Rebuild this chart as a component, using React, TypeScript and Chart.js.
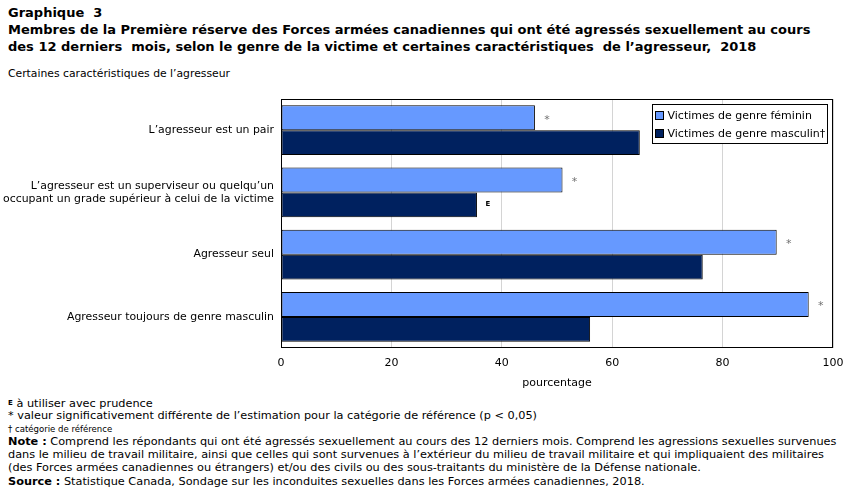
import React, { useEffect, useRef } from "react";
import { Chart, registerables } from "chart.js";

Chart.register(...registerables);

// Characteristics of the perpetrator (y categories)
const categories: (string | string[])[] = [
  "L’agresseur est un pair",
  ["L’agresseur est un superviseur ou quelqu’un", "occupant un grade supérieur à celui de la victime"],
  "Agresseur seul",
  "Agresseur toujours de genre masculin",
];

// Percentages by gender of victim
const femaleValues = [46.0, 51.0, 89.8, 95.6];
const maleValues = [65.0, 35.5, 76.4, 56.0];

// Quality / significance flags shown next to the bars
const femaleFlags = ["*", "*", "*", "*"];
const maleFlags = ["", "E", "", ""];

const xTicks = [0, 20, 40, 60, 80, 100];

const seriesLabels = ["Victimes de genre féminin", "Victimes de genre masculin†"];
const seriesColors = ["#6699FF", "#00215F"];

const FONT = "'DejaVu Sans', Verdana, sans-serif";
const FONT_NARROW = "'DejaVu Sans Condensed', 'DejaVu Sans', Tahoma, sans-serif";

const flagPlugin = {
  id: "flags",
  afterDatasetsDraw(chart: any) {
    const ctx = chart.ctx;
    const flagSets = [femaleFlags, maleFlags];
    ctx.save();
    chart.data.datasets.forEach((_ds: any, di: number) => {
      const meta = chart.getDatasetMeta(di);
      meta.data.forEach((bar: any, i: number) => {
        const f = flagSets[di][i];
        if (!f) return;
        ctx.textAlign = "center";
        ctx.textBaseline = "middle";
        if (f === "*") {
          ctx.font = `11px ${FONT}`;
          ctx.fillStyle = "#707070";
          ctx.fillText(f, bar.x + 12, bar.y + 2);
        } else {
          ctx.font = `bold 7px ${FONT}`;
          ctx.fillStyle = "#000000";
          ctx.fillText(f, bar.x + 11, bar.y - 1);
        }
      });
    });
    ctx.restore();
  },
};

const framePlugin = {
  id: "frame",
  afterDraw(chart: any) {
    const { ctx, chartArea } = chart;
    ctx.save();
    ctx.strokeStyle = "#000000";
    ctx.lineWidth = 1;
    const l = Math.round(chartArea.left) + 0.5;
    const t = Math.round(chartArea.top) + 0.5;
    const r = Math.round(chartArea.right) - 0.5;
    const b = Math.round(chartArea.bottom) - 0.5;
    ctx.strokeRect(l, t, r - l, b - t);

    // legend box inside the plot area
    const lx = 652.5;
    const ly = t + 5;
    const lw = 175;
    const lh = 39;
    ctx.fillStyle = "#ffffff";
    ctx.fillRect(lx, ly, lw, lh);
    ctx.strokeRect(lx, ly, lw, lh);
    ctx.font = `11px ${FONT}`;
    ctx.textAlign = "left";
    ctx.textBaseline = "middle";
    seriesLabels.forEach((label, i) => {
      const cy = ly + 11 + i * 18;
      ctx.fillStyle = seriesColors[i];
      ctx.fillRect(lx + 3, cy - 4, 8, 8);
      ctx.strokeStyle = "#000000";
      ctx.strokeRect(lx + 3, cy - 4, 8, 8);
      ctx.fillStyle = "#000000";
      ctx.fillText(label, lx + 15, cy + 0.5);
    });
    ctx.restore();
  },
};

function BarChart() {
  const ref = useRef<HTMLCanvasElement | null>(null);
  useEffect(() => {
    if (!ref.current) return;
    const chart = new Chart(ref.current, {
      type: "bar",
      data: {
        labels: categories,
        datasets: [
          {
            label: seriesLabels[0],
            data: femaleValues,
            backgroundColor: seriesColors[0],
            borderColor: "#000000",
            borderWidth: 1,
            borderSkipped: false,
          },
          {
            label: seriesLabels[1],
            data: maleValues,
            backgroundColor: seriesColors[1],
            borderColor: "#000000",
            borderWidth: 1,
            borderSkipped: false,
          },
        ],
      },
      options: {
        indexAxis: "y",
        animation: false,
        responsive: false,
        maintainAspectRatio: false,
        datasets: { bar: { barPercentage: 1, categoryPercentage: 0.8 } },
        layout: { padding: { top: 9, right: 18, bottom: 0, left: 0 } },
        plugins: {
          legend: { display: false },
          tooltip: { enabled: false },
          title: { display: false },
        },
        scales: {
          x: {
            min: 0,
            max: 100,
            afterBuildTicks: (scale: any) => {
              scale.ticks = xTicks.map((v) => ({ value: v }));
            },
            afterFit: (scale: any) => {
              scale.height = 42;
              scale.paddingLeft = 0;
              scale.paddingRight = 0;
            },
            grid: { color: "#d4d4d4", drawTicks: false, lineWidth: 1 },
            border: { display: false },
            ticks: {
              color: "#000000",
              font: { family: FONT, size: 11 },
              padding: 9,
              maxRotation: 0,
            },
            title: {
              display: true,
              text: "pourcentage",
              color: "#000000",
              font: { family: FONT, size: 11 },
              padding: { top: 0, bottom: 0 },
            },
          },
          y: {
            afterFit: (scale: any) => {
              scale.width = 281;
              scale.paddingTop = 0;
              scale.paddingBottom = 0;
            },
            grid: { display: false, drawTicks: false },
            border: { display: false },
            ticks: {
              color: "#000000",
              font: { family: FONT, size: 10.9, lineHeight: 1.2 },
              padding: 7,
            },
          },
        },
      },
      plugins: [flagPlugin, framePlugin],
    });
    return () => chart.destroy();
  }, []);
  return (
    <canvas
      ref={ref}
      width={851}
      height={300}
      style={{ position: "absolute", left: 0, top: 90, width: 851, height: 300 }}
    />
  );
}

const line = (top: number, extra: React.CSSProperties = {}): React.CSSProperties => ({
  position: "absolute",
  left: 8,
  top,
  whiteSpace: "nowrap",
  fontFamily: FONT,
  fontSize: 11.3,
  lineHeight: "13px",
  color: "#000",
  ...extra,
});

export default function App() {
  return (
    <div
      style={{
        position: "fixed",
        left: 0,
        top: 0,
        width: 851,
        height: 492,
        background: "#ffffff",
        overflow: "hidden",
      }}
    >
      <div style={line(4, { fontWeight: "bold", fontSize: 13, lineHeight: "17px" })}>
        Graphique&nbsp; 3
        <br />
        Membres de la Première réserve des Forces armées canadiennes qui ont été agressés sexuellement au cours
        <br />
        des 12 derniers&nbsp; mois, selon le genre de la victime et certaines caractéristiques&nbsp; de l’agresseur,&nbsp; 2018
      </div>
      <div style={line(67, { fontSize: 10.8 })}>Certaines caractéristiques de l’agresseur</div>
      <BarChart />
      <div style={line(397)}>
        <span style={{ fontSize: 7, verticalAlign: "top", fontWeight: "bold" }}>E</span> à utiliser avec prudence
      </div>
      <div style={line(409)}>* valeur significativement différente de l’estimation pour la catégorie de référence (p &lt; 0,05)</div>
      <div style={line(422, { fontFamily: FONT_NARROW, fontSize: 9.5 })}>† catégorie de référence</div>
      <div style={line(435)}>
        <b>Note :</b> Comprend les répondants qui ont été agressés sexuellement au cours des 12 derniers mois. Comprend les agressions sexuelles survenues
        <br />
        dans le milieu de travail militaire, ainsi que celles qui sont survenues à l’extérieur du milieu de travail militaire et qui impliquaient des militaires
        <br />
        (des Forces armées canadiennes ou étrangers) et/ou des civils ou des sous-traitants du ministère de la Défense nationale.
      </div>
      <div style={line(475)}>
        <b>Source :</b> Statistique Canada, Sondage sur les inconduites sexuelles dans les Forces armées canadiennes, 2018.
      </div>
    </div>
  );
}
